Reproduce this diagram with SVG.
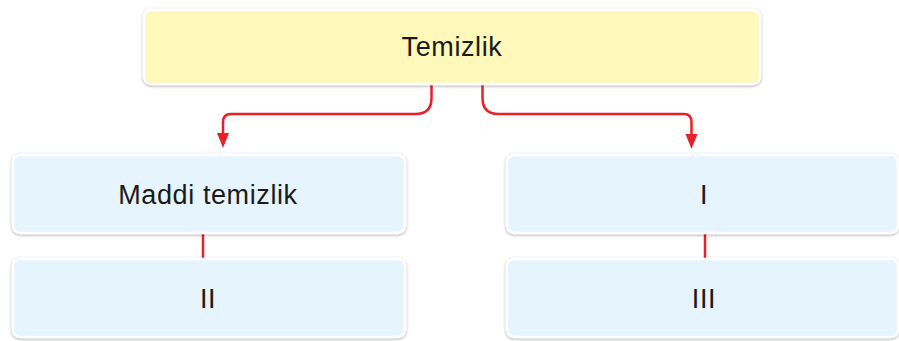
<svg xmlns="http://www.w3.org/2000/svg" width="899" height="341" viewBox="0 0 899 341">
<defs>
<filter id="sh" x="-5%" y="-20%" width="110%" height="140%">
<feDropShadow dx="0" dy="1" stdDeviation="1.5" flood-color="#000" flood-opacity="0.35"/>
</filter>
<style>
.box{stroke:#fff;stroke-width:2.5;filter:url(#sh)}
.y{fill:#FEF8BA}
.b{fill:#E6F4FD}
.t{font-family:"Liberation Sans",Arial,sans-serif;font-size:27px;letter-spacing:0.6px;fill:#1a1a1a;text-anchor:middle}
.c{fill:none;stroke:#E8202A;stroke-width:2.5}
.ah{fill:#E8202A}
</style>
</defs>
<g id="connectors">
<path class="c" d="M431.5,84 V98 Q431.5,114 415.5,114 H231 Q223,114 223,122 V133"/>
<path class="c" d="M482.5,84 V98 Q482.5,114 498.5,114 H684 Q691.5,114 691.5,122 V134"/>
<path class="ah" d="M217,133 L229,133 L223,148 Z"/>
<path class="ah" d="M685.5,134 L697.5,134 L691.5,149 Z"/>
<line class="c" x1="203" y1="233" x2="203" y2="259"/>
<line class="c" x1="705" y1="233" x2="705" y2="259"/>
</g>
<g id="temizlik">
<rect class="box y" x="144" y="10" width="616" height="74" rx="7"/>
<text class="t" x="452" y="56">Temizlik</text>
</g>
<g id="maddi">
<rect class="box b" x="13" y="155" width="392" height="78" rx="7"/>
<text class="t" x="208" y="204">Maddi temizlik</text>
</g>
<g id="ii">
<rect class="box b" x="13" y="259" width="392" height="78" rx="7"/>
<text class="t" x="208" y="308">II</text>
</g>
<g id="i">
<rect class="box b" x="507" y="155" width="391" height="78" rx="7"/>
<text class="t" x="704" y="204">I</text>
</g>
<g id="iii">
<rect class="box b" x="507" y="259" width="391" height="78" rx="7"/>
<text class="t" x="704" y="308">III</text>
</g>
</svg>
